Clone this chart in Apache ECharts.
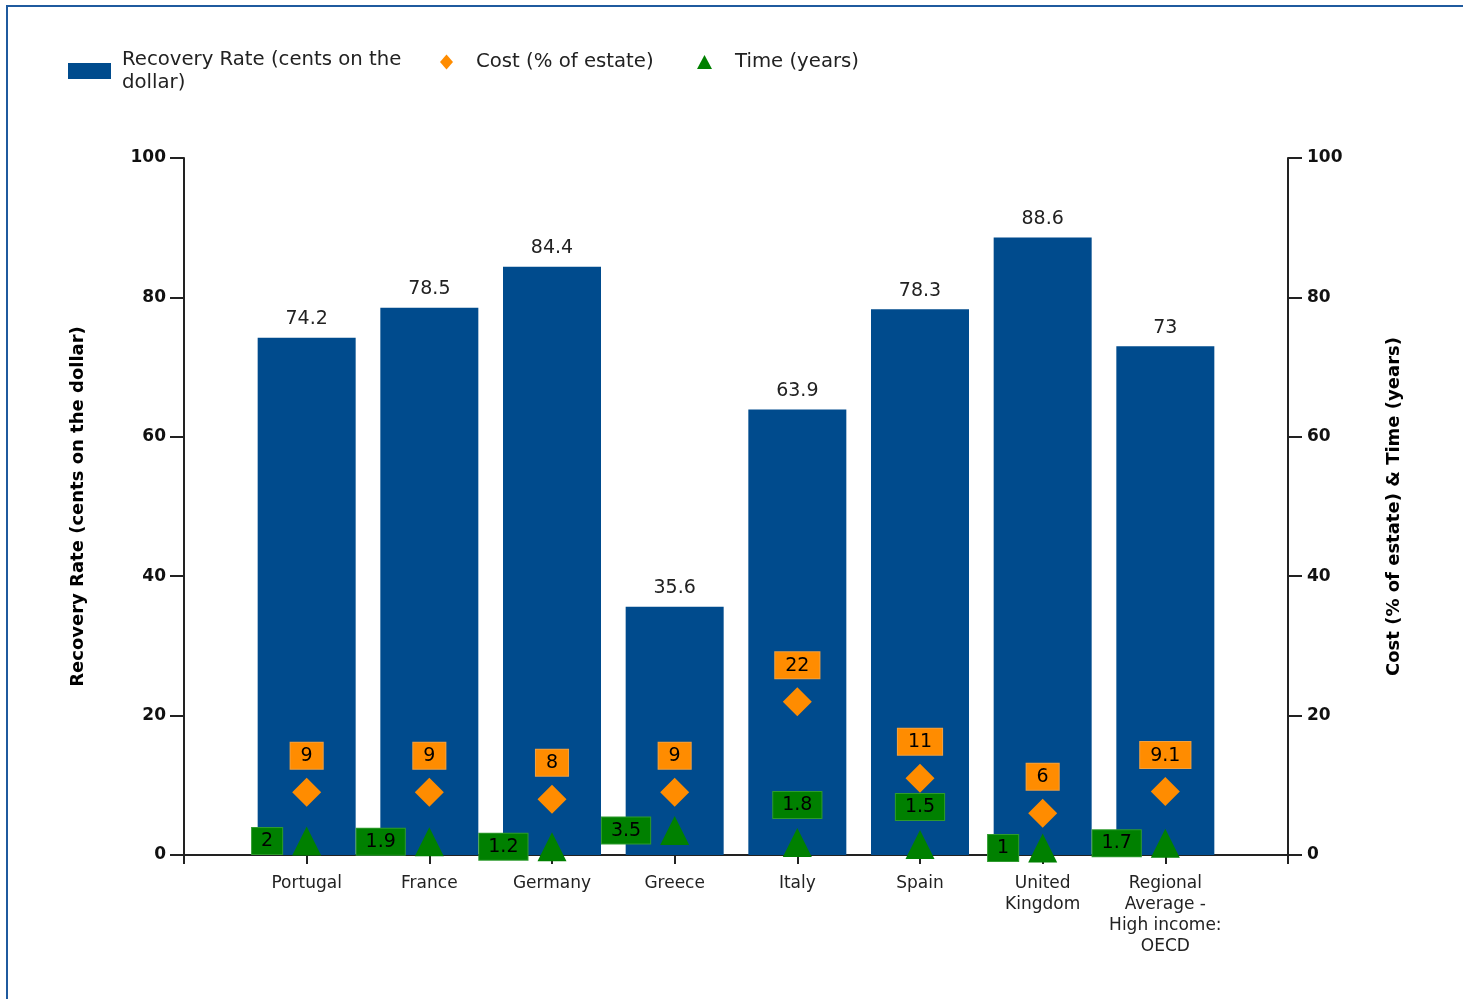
<!DOCTYPE html>
<html>
<head>
<meta charset="utf-8">
<script src="https://cdn.jsdelivr.net/npm/echarts@6/dist/echarts.min.js"></script>
<style>
html,body{margin:0;padding:0;background:#fff;}
#chart{width:1463px;height:999px;}
</style>
</head>
<body>
<div id="chart"></div>
<script>
const categories = ['Portugal', 'France', 'Germany', 'Greece', 'Italy', 'Spain', 'United\nKingdom', 'Regional\nAverage -\nHigh income:\nOECD'];
const recoveryRate = [74.2, 78.5, 84.4, 35.6, 63.9, 78.3, 88.6, 73];
const costPct = [9, 9, 8, 9, 22, 11, 6, 9.1];
const timeYears = [2, 1.9, 1.2, 3.5, 1.8, 1.5, 1, 1.7];
const yTicks = { min: 0, max: 100, interval: 20 };
const seriesNames = ['Recovery Rate (cents on the dollar)', 'Cost (% of estate)', 'Time (years)'];
const timeLabelAbove = ['Italy', 'Spain'];

const FONT = 'DejaVu Sans';
const xCats = [''].concat(categories, ['']);
const pad = arr => ['-'].concat(arr, ['-']);

const barData = pad(recoveryRate);
const costData = pad(costPct);
const timeData = ['-'].concat(timeYears.map((v, i) => ({
  value: v,
  label: { position: timeLabelAbove.indexOf(categories[i]) >= 0 ? 'top' : 'left' }
})), ['-']);

const chart = echarts.init(document.getElementById('chart'), null, { renderer: 'canvas' });

const yAxisCommon = {
  type: 'value',
  min: yTicks.min, max: yTicks.max, interval: yTicks.interval,
  splitLine: { show: false },
  axisLine: { show: true, lineStyle: { color: '#222', width: 2 } },
  axisTick: { show: true, length: 14, lineStyle: { color: '#222', width: 2 } },
  axisLabel: { color: '#111', fontFamily: FONT, fontWeight: 'bold', fontSize: 17, margin: 18 },
  nameLocation: 'middle',
  nameRotate: 90,
  nameTextStyle: { color: '#000', fontFamily: FONT, fontWeight: 'bold', fontSize: 18 }
};

const option = {
  backgroundColor: '#fff',
  animation: false,
  textStyle: { fontFamily: FONT },
  grid: { left: 184, right: 175, top: 158, bottom: 144, containLabel: false },
  legend: [
    {
      left: 68, top: 48, padding: 0,
      itemWidth: 43, itemHeight: 16,
      data: [{ name: seriesNames[0], icon: 'rect' }],
      formatter: () => 'Recovery Rate (cents on the\ndollar)',
      textStyle: { color: '#222', fontFamily: FONT, fontSize: 19.7, lineHeight: 23, padding: [0, 0, 0, 6] }
    },
    {
      left: 440, top: 52, padding: 0,
      itemWidth: 13, itemHeight: 15,
      data: [{ name: seriesNames[1], icon: 'diamond' }],
      textStyle: { color: '#222', fontFamily: FONT, fontSize: 19.7, padding: [0, 0, 0, 18] }
    },
    {
      left: 697, top: 52, padding: 0,
      itemWidth: 15, itemHeight: 14,
      data: [{ name: seriesNames[2], icon: 'triangle' }],
      textStyle: { color: '#222', fontFamily: FONT, fontSize: 19.7, padding: [0, 0, 0, 18] }
    }
  ],
  xAxis: {
    type: 'category',
    data: xCats,
    boundaryGap: false,
    axisLine: { show: true, lineStyle: { color: '#222', width: 2 } },
    axisTick: { show: true, length: 9, interval: 0, lineStyle: { color: '#222', width: 2 } },
    axisLabel: { interval: 0, color: '#222', fontFamily: FONT, fontSize: 17, lineHeight: 21, margin: 18 },
    splitLine: { show: false }
  },
  yAxis: [
    Object.assign({}, yAxisCommon, {
      position: 'left',
      name: 'Recovery Rate (cents on the dollar)',
      nameGap: 97
    }),
    Object.assign({}, yAxisCommon, {
      position: 'right',
      name: 'Cost (% of estate) & Time (years)',
      nameGap: 97,
      axisLabel: Object.assign({}, yAxisCommon.axisLabel, { margin: 19 })
    })
  ],
  series: [
    {
      name: seriesNames[0],
      type: 'bar',
      data: barData,
      barWidth: 98,
      itemStyle: { color: '#004B8D' },
      label: { show: true, position: 'top', distance: 9, color: '#222', fontFamily: FONT, fontSize: 19 },
      z: 2
    },
    {
      name: seriesNames[1],
      type: 'scatter',
      yAxisIndex: 1,
      data: costData,
      symbol: 'diamond',
      symbolSize: 29,
      itemStyle: { color: '#FF8C00', opacity: 1 },
      label: {
        show: true, position: 'top', distance: 9, opacity: 1,
        color: '#000', fontFamily: FONT, fontSize: 19,
        backgroundColor: '#FF8C00', borderColor: '#F0A040', borderWidth: 1,
        padding: [4, 10, 3, 10]
      },
      z: 4
    },
    {
      name: seriesNames[2],
      type: 'scatter',
      yAxisIndex: 1,
      data: timeData,
      symbol: 'triangle',
      symbolSize: 29,
      itemStyle: { color: '#008000', opacity: 1 },
      label: {
        show: true, position: 'left', distance: 10, opacity: 1,
        color: '#000', fontFamily: FONT, fontSize: 19,
        backgroundColor: '#008000', borderColor: '#2E9A2E', borderWidth: 1,
        padding: [4, 9, 3, 9]
      },
      z: 5
    }
  ],
  graphic: [
    { type: 'line', shape: { x1: 6, y1: 6, x2: 1463, y2: 6 }, style: { stroke: '#1F5A9E', lineWidth: 2 }, z: 10 },
    { type: 'line', shape: { x1: 7, y1: 6, x2: 7, y2: 999 }, style: { stroke: '#1F5A9E', lineWidth: 2 }, z: 10 }
  ]
};

chart.setOption(option);
</script>
</body>
</html>
